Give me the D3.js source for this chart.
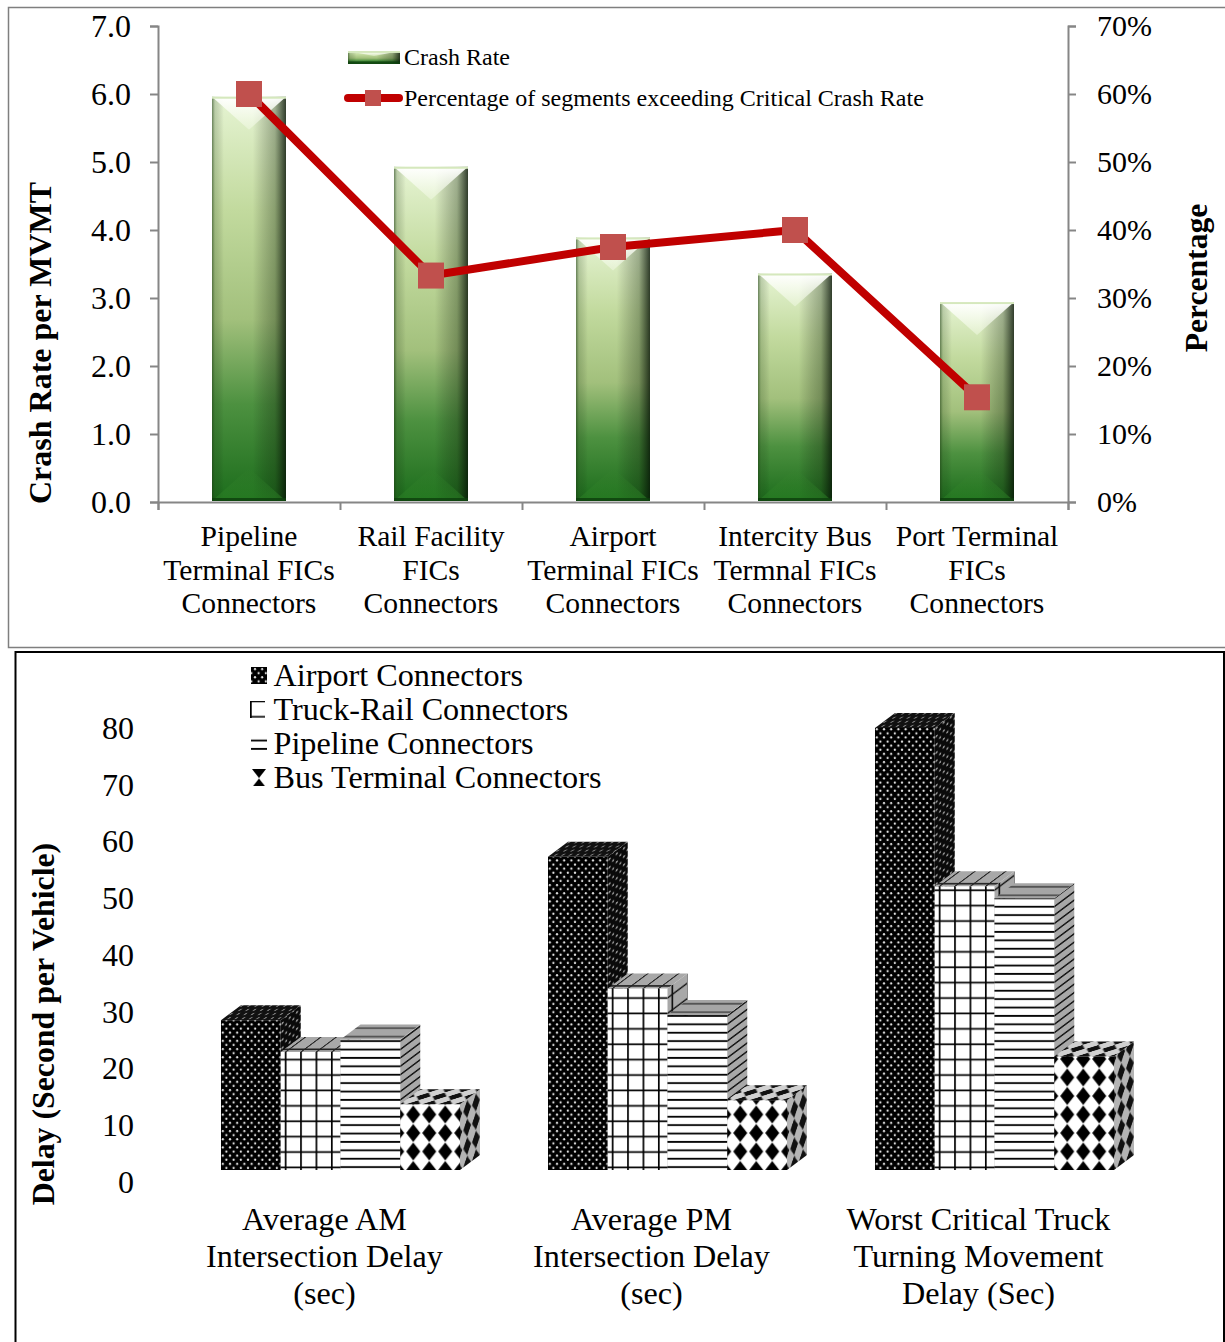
<!DOCTYPE html>
<html>
<head>
<meta charset="utf-8">
<script src="https://cdn.jsdelivr.net/npm/d3@7"></script>
<style>
  html, body { margin: 0; padding: 0; background: #fff; }
  svg { display: block; }
  text { font-family: "Liberation Serif", "Times New Roman", serif; fill: #000; }
</style>
</head>
<body>
<div id="chart"></div>
<script>
// crash chart data
var crashCategories = [
  ["Pipeline", "Terminal FICs", "Connectors"],
  ["Rail Facility", "FICs", "Connectors"],
  ["Airport", "Terminal FICs", "Connectors"],
  ["Intercity Bus", "Termnal FICs", "Connectors"],
  ["Port Terminal", "FICs", "Connectors"]
];
var crashRate = [5.96, 4.93, 3.89, 3.36, 2.94];
var pctExceeding = [0.60, 0.333, 0.375, 0.40, 0.154];
var crashLegend = ["Crash Rate", "Percentage of segments exceeding Critical Crash Rate"];

// delay chart data
var delayCategories = [
  ["Average AM", "Intersection Delay", "(sec)"],
  ["Average PM", "Intersection Delay", "(sec)"],
  ["Worst Critical Truck", "Turning Movement", "Delay (Sec)"]
];
var delaySeries = ["Airport Connectors", "Truck-Rail Connectors", "Pipeline Connectors", "Bus Terminal Connectors"];
var airportDelay = [26.4, 55.2, 77.9];
var truckRailDelay = [20.8, 32.0, 50.0];
var pipelineDelay = [23.0, 27.3, 47.9];
var busDelay = [11.6, 12.3, 20.0];
var delayValues = [airportDelay, truckRailDelay, pipelineDelay, busDelay];

var svg = d3.select("#chart").append("svg")
  .attr("width", 1225)
  .attr("height", 1342);
var defs = svg.append("defs");

// panel frames
svg.append("rect")
  .attr("x", 8.5).attr("y", 7.5)
  .attr("width", 1240).attr("height", 640)
  .attr("fill", "#fff").attr("stroke", "#7f7f7f").attr("stroke-width", 1.5);
svg.append("rect")
  .attr("x", 15.5).attr("y", 652)
  .attr("width", 1208.5).attr("height", 720)
  .attr("fill", "#fff").attr("stroke", "#000").attr("stroke-width", 2);

// ---------- crash rate panel ----------
var crashLeft = 158, crashRight = 1068, crashBase = 502, crashTop = 26;
var axisGray = "#868686";

var x0 = d3.scaleBand().domain(d3.range(5)).range([crashLeft, crashRight]);
var xEdges = d3.scaleLinear().domain([0, 5]).range([crashLeft, crashRight]);
var yRate = d3.scaleLinear().domain([0, 7]).range([crashBase, crashTop]);
var yPct = d3.scaleLinear().domain([0, 0.7]).range([crashBase, crashTop]);
var barWidth = 74;

function linearGradient(id, horizontal, stops) {
  var g = defs.append("linearGradient").attr("id", id)
    .attr("x1", 0).attr("y1", 0)
    .attr("x2", horizontal ? 1 : 0).attr("y2", horizontal ? 0 : 1);
  stops.forEach(function(s) {
    g.append("stop").attr("offset", s[0]).attr("stop-color", s[1]).attr("stop-opacity", s[2]);
  });
}
linearGradient("barBody", false, [
  [0, "#e6f4d3", 1], [0.28, "#c2da9e", 1], [0.55, "#a2c07c", 1],
  [0.76, "#4d9140", 1], [1, "#1c6d1c", 1]
]);
linearGradient("barEdges", true, [
  [0, "#1a3a12", 0.6], [0.04, "#1a3a12", 0.2], [0.16, "#000", 0],
  [0.55, "#000", 0], [0.85, "#10200a", 0.32], [1, "#051005", 0.8]
]);
linearGradient("bevelTop", false, [[0, "#ffffff", 1], [1, "#f4fbe8", 0.45]]);
linearGradient("bevelBottom", false, [[0, "#3c8a30", 0], [1, "#2a8024", 0.6]]);

function glassBar(parent, x, y, w, h, bevel) {
  parent.append("rect").attr("x", x).attr("y", y).attr("width", w).attr("height", h)
    .attr("fill", "url(#barBody)");
  parent.append("rect").attr("x", x).attr("y", y).attr("width", w).attr("height", h)
    .attr("fill", "url(#barEdges)");
  parent.append("polygon")
    .attr("points", [[x, y], [x + w, y], [x + w / 2, y + bevel]].join(" "))
    .attr("fill", "url(#bevelTop)");
  parent.append("polygon")
    .attr("points", [[x, y + h], [x + w, y + h], [x + w / 2, y + h - bevel]].join(" "))
    .attr("fill", "url(#bevelBottom)");
  parent.append("rect").attr("x", x).attr("y", y + h - Math.min(3, h * 0.2)).attr("width", w).attr("height", Math.min(3, h * 0.2))
    .attr("fill", "#0d3d0d").attr("opacity", 0.8);
  parent.append("rect").attr("x", x).attr("y", y).attr("width", w).attr("height", Math.min(2, h * 0.15))
    .attr("fill", "#d5e8bd");
}

var crashBars = svg.append("g");
crashRate.forEach(function(d, i) {
  var bx = x0(i) + x0.bandwidth() / 2 - barWidth / 2;
  glassBar(crashBars, bx, yRate(d), barWidth, yRate(0) - yRate(d) - 1, 33);
});

function styleAxis(g, size) {
  g.select(".domain").attr("stroke", axisGray).attr("stroke-width", 2);
  g.selectAll(".tick line").attr("stroke", axisGray).attr("stroke-width", 2);
  g.selectAll(".tick text")
    .attr("fill", "#000")
    .style("font-family", '"Liberation Serif", serif')
    .style("font-size", size + "px");
}

svg.append("g")
  .attr("transform", "translate(" + crashLeft + ",0)")
  .call(d3.axisLeft(yRate).ticks(7).tickSize(8).tickPadding(19).tickFormat(d3.format(".1f")))
  .call(styleAxis, 32);
svg.append("g")
  .attr("transform", "translate(" + crashRight + ",0)")
  .call(d3.axisRight(yPct).ticks(7).tickSize(8).tickPadding(21).tickFormat(d3.format(".0%")))
  .call(styleAxis, 30);
svg.append("g")
  .attr("transform", "translate(0," + crashBase + ")")
  .call(d3.axisBottom(xEdges).ticks(5).tickSize(8).tickFormat(""))
  .call(styleAxis, 10);

// red line and square markers
var pctLine = d3.line()
  .x(function(d, i) { return x0(i) + x0.bandwidth() / 2; })
  .y(function(d) { return yPct(d); });
svg.append("path").datum(pctExceeding)
  .attr("d", pctLine)
  .attr("fill", "none").attr("stroke", "#c00000").attr("stroke-width", 8);
svg.selectAll(".pct-marker").data(pctExceeding).enter().append("rect")
  .attr("class", "pct-marker")
  .attr("x", function(d, i) { return x0(i) + x0.bandwidth() / 2 - 13; })
  .attr("y", function(d) { return yPct(d) - 13; })
  .attr("width", 26).attr("height", 26)
  .attr("fill", "#c0504d");

// crash legend
var crashKey = svg.append("g");
glassBar(crashKey, 348, 51, 52, 13, 5);
crashKey.append("line")
  .attr("x1", 348).attr("x2", 399).attr("y1", 98).attr("y2", 98)
  .attr("stroke", "#c00000").attr("stroke-width", 8).attr("stroke-linecap", "round");
crashKey.append("rect")
  .attr("x", 365).attr("y", 90).attr("width", 16).attr("height", 16)
  .attr("fill", "#c0504d");
crashKey.selectAll("text").data(crashLegend).enter().append("text")
  .attr("x", 404)
  .attr("y", function(d, i) { return 65 + i * 41; })
  .attr("font-size", 24)
  .text(function(d) { return d; });

function multiLine(parent, lines, cx, y0, step, size) {
  parent.append("text")
    .attr("text-anchor", "middle")
    .attr("font-size", size)
    .selectAll("tspan").data(lines).enter().append("tspan")
    .attr("x", cx)
    .attr("y", function(d, i) { return y0 + i * step; })
    .text(function(d) { return d; });
}

crashCategories.forEach(function(lines, i) {
  multiLine(svg, lines, x0(i) + x0.bandwidth() / 2, 546, 33.5, 29.6);
});

function axisTitle(label, x, y, size) {
  svg.append("text")
    .attr("transform", "translate(" + x + "," + y + ") rotate(-90)")
    .attr("text-anchor", "middle")
    .attr("font-weight", "bold")
    .attr("font-size", size)
    .text(label);
}
axisTitle("Crash Rate per MVMT", 51, 343, 32);
axisTitle("Percentage", 1207, 278, 31.6);

// ---------- delay panel ----------
var delayBase = 1170, depthX = 20, depthY = 15, cuboidWidth = 59.75;
var xDelay = d3.scaleBand().domain(d3.range(3)).range([177, 1158]);
var xInner = d3.scaleBand().domain(d3.range(4)).range([0, cuboidWidth * 4]);
var yDelay = d3.scaleLinear().domain([0, 80]).range([delayBase, 716]);

// tile factories; "ink" is the mark colour, "ground" the face colour
function tile(id, x, w, h, ground, draw, squeeze) {
  var p = defs.append("pattern").attr("id", id)
    .attr("patternUnits", "userSpaceOnUse")
    .attr("x", x).attr("y", 0).attr("width", w).attr("height", h);
  if (squeeze) p.attr("patternTransform", squeeze);
  p.append("rect").attr("width", w).attr("height", h).attr("fill", ground);
  draw(p);
}
function dotTile(id, ground, ink) {
  tile(id, 0, 7.2, 8.2, ground, function(p) {
    [[1.8, 2.05], [5.4, 6.15]].forEach(function(c) {
      p.append("circle").attr("cx", c[0]).attr("cy", c[1]).attr("r", 1.1).attr("fill", ink);
    });
  });
}
function gridTile(id, ground, ink) {
  tile(id, 4, 15.4, 15.4, ground, function(p) {
    p.append("rect").attr("width", 1.7).attr("height", 15.4).attr("fill", ink);
    p.append("rect").attr("y", 12).attr("width", 15.4).attr("height", 1.7).attr("fill", ink);
  });
}
function stripeTile(id, ground, ink) {
  tile(id, 0, 8.4, 8.4, ground, function(p) {
    p.append("rect").attr("y", 4.6).attr("width", 8.4).attr("height", 1.8).attr("fill", ink);
  });
}
function diamondTile(id, ground, ink, squeeze) {
  tile(id, 5, 16, 18.5, ground, function(p) {
    p.append("path").attr("d", "M8,-9L15,0L8,9L1,0Z").attr("fill", ink);
    p.append("path").attr("d", "M8,9.5L15,18.5L8,27.5L1,18.5Z").attr("fill", ink);
  }, squeeze);
}
var tileFns = [dotTile, gridTile, stripeTile, diamondTile];
var frontColors = [["#000", "#e6e6e6"], ["#fff", "#000"], ["#fff", "#000"], ["#fff", "#000"]];
var sideColors = [["#0a0a0a", "#9a9a9a"], ["#a8a8a8", "#111"], ["#a8a8a8", "#111"], ["#b4b4b4", "#111"]];
var topColors = [["#111", "#777"], ["#a8a8a8", "#222"], ["#a6a6a6", "#555"], ["#d0d0d0", "#111"]];
tileFns.forEach(function(fn, s) {
  fn("front" + s, frontColors[s][0], frontColors[s][1]);
  // the bus diamonds are foreshortened on the receding faces
  fn("side" + s, sideColors[s][0], sideColors[s][1], s === 3 ? "scale(0.55,1)" : null);
  fn("top" + s, topColors[s][0], topColors[s][1], s === 3 ? "scale(1,0.42)" : null);
});

// cuboids, drawn left to right so each hides the side of the previous one
var cuboids = svg.append("g");
delayCategories.forEach(function(cat, c) {
  delaySeries.forEach(function(name, s) {
    var v = delayValues[s][c];
    var bx = xDelay(c) + xDelay.bandwidth() / 2 - cuboidWidth * 2 + xInner(s);
    var h = delayBase - yDelay(v);
    var topY = yDelay(v);

    cuboids.append("rect")
      .attr("transform", "translate(" + bx + "," + delayBase + ")")
      .attr("y", -h).attr("width", cuboidWidth).attr("height", h)
      .attr("fill", "url(#front" + s + ")");
    cuboids.append("rect")
      .attr("transform", "matrix(1," + (-depthY / depthX) + ",0,1," + (bx + cuboidWidth) + "," + delayBase + ")")
      .attr("y", -h).attr("width", depthX).attr("height", h)
      .attr("fill", "url(#side" + s + ")");
    cuboids.append("rect")
      .attr("transform", "matrix(1,0," + (-depthX / depthY) + ",1," + bx + "," + topY + ")")
      .attr("y", -depthY).attr("width", cuboidWidth).attr("height", depthY)
      .attr("fill", "url(#top" + s + ")");
  });
});

// value axis sits in front of the floor, no line or tick marks
var delayAxis = svg.append("g")
  .attr("transform", "translate(142,12)")
  .call(d3.axisLeft(yDelay).tickValues(d3.range(0, 81, 10)).tickSize(0).tickPadding(8));
delayAxis.select(".domain").remove();
delayAxis.selectAll(".tick text")
  .attr("fill", "#000")
  .style("font-family", '"Liberation Serif", serif')
  .style("font-size", "32px");

delayCategories.forEach(function(lines, c) {
  multiLine(svg, lines, xDelay(c) + xDelay.bandwidth() / 2 - 16, 1230, 37, 32.2);
});

axisTitle("Delay (Second per Vehicle)", 54, 1024, 31.8);

// delay legend; the grid key is cut so only one corner of a cell shows
var keyShift = [0, -3, 0, 0];
var keyWidth = [16, 15, 16, 16];
var delayKey = svg.selectAll(".delay-key").data(delaySeries).enter().append("g")
  .attr("class", "delay-key")
  .attr("transform", function(d, i) { return "translate(246," + (667 + i * 34 - keyShift[i]) + ")"; });
delayKey.append("rect")
  .attr("x", function(d, i) { return i === 1 ? 4 : 5; })
  .attr("y", function(d, i) { return keyShift[i]; })
  .attr("width", function(d, i) { return keyWidth[i]; })
  .attr("height", 17)
  .attr("fill", function(d, i) { return "url(#front" + i + ")"; });
delayKey.append("text")
  .attr("x", 27.5)
  .attr("y", function(d, i) { return 19 + keyShift[i]; })
  .attr("font-size", 32.2)
  .text(function(d) { return d; });
</script>
</body>
</html>
